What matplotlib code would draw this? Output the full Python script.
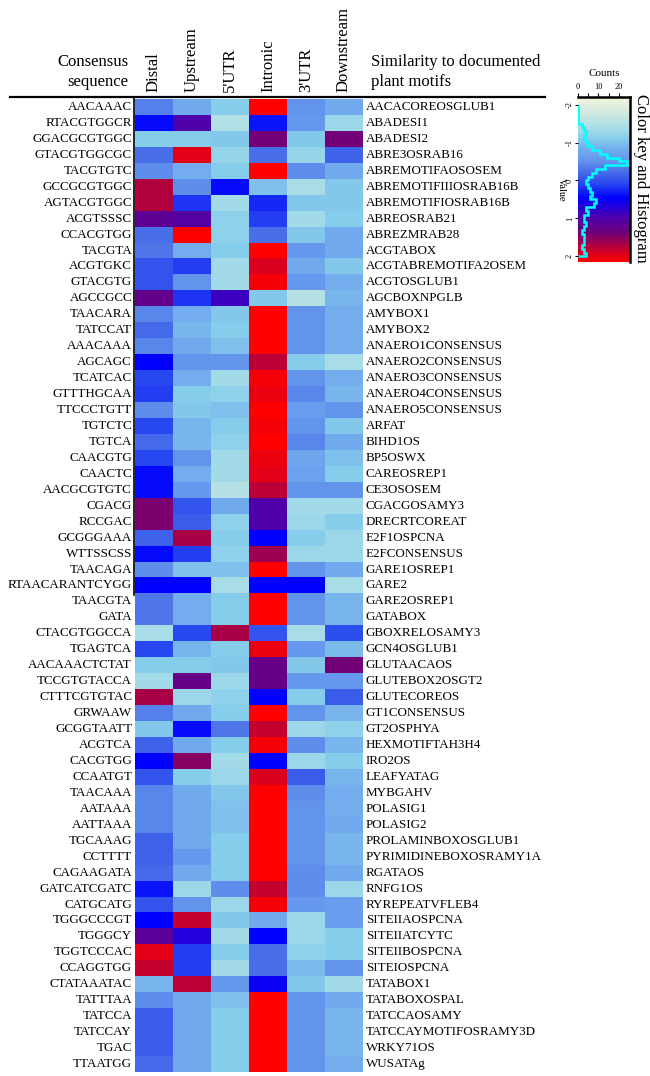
import numpy as np
import matplotlib
matplotlib.use("Agg")
import matplotlib.pyplot as plt
from matplotlib.colors import LinearSegmentedColormap

plt.rcParams['font.family'] = ['Liberation Serif', 'DejaVu Serif']

consensus = ["AACAAAC", "RTACGTGGCR", "GGACGCGTGGC", "GTACGTGGCGC", "TACGTGTC",
             "GCCGCGTGGC", "AGTACGTGGC", "ACGTSSSC", "CCACGTGG", "TACGTA",
             "ACGTGKC", "GTACGTG", "AGCCGCC", "TAACARA", "TATCCAT",
             "AAACAAA", "AGCAGC", "TCATCAC", "GTTTHGCAA", "TTCCCTGTT",
             "TGTCTC", "TGTCA", "CAACGTG", "CAACTC", "AACGCGTGTC",
             "CGACG", "RCCGAC", "GCGGGAAA", "WTTSSCSS", "TAACAGA",
             "RTAACARANTCYGG", "TAACGTA", "GATA", "CTACGTGGCCA", "TGAGTCA",
             "AACAAACTCTAT", "TCCGTGTACCA", "CTTTCGTGTAC", "GRWAAW", "GCGGTAATT",
             "ACGTCA", "CACGTGG", "CCAATGT", "TAACAAA", "AATAAA",
             "AATTAAA", "TGCAAAG", "CCTTTT", "CAGAAGATA", "GATCATCGATC",
             "CATGCATG", "TGGGCCCGT", "TGGGCY", "TGGTCCCAC", "CCAGGTGG",
             "CTATAAATAC", "TATTTAA", "TATCCA", "TATCCAY", "TGAC", "TTAATGG"]

motifs = ["AACACOREOSGLUB1", "ABADESI1", "ABADESI2", "ABRE3OSRAB16", "ABREMOTIFAOSOSEM",
          "ABREMOTIFIIIOSRAB16B", "ABREMOTIFIOSRAB16B", "ABREOSRAB21", "ABREZMRAB28", "ACGTABOX",
          "ACGTABREMOTIFA2OSEM", "ACGTOSGLUB1", "AGCBOXNPGLB", "AMYBOX1", "AMYBOX2",
          "ANAERO1CONSENSUS", "ANAERO2CONSENSUS", "ANAERO3CONSENSUS", "ANAERO4CONSENSUS", "ANAERO5CONSENSUS",
          "ARFAT", "BIHD1OS", "BP5OSWX", "CAREOSREP1", "CE3OSOSEM",
          "CGACGOSAMY3", "DRECRTCOREAT", "E2F1OSPCNA", "E2FCONSENSUS", "GARE1OSREP1",
          "GARE2", "GARE2OSREP1", "GATABOX", "GBOXRELOSAMY3", "GCN4OSGLUB1",
          "GLUTAACAOS", "GLUTEBOX2OSGT2", "GLUTECOREOS", "GT1CONSENSUS", "GT2OSPHYA",
          "HEXMOTIFTAH3H4", "IRO2OS", "LEAFYATAG", "MYBGAHV", "POLASIG1",
          "POLASIG2", "PROLAMINBOXOSGLUB1", "PYRIMIDINEBOXOSRAMY1A", "RGATAOS", "RNFG1OS",
          "RYREPEATVFLEB4", "SITEIIAOSPCNA", "SITEIIATCYTC", "SITEIIBOSPCNA", "SITEIOSPCNA",
          "TATABOX1", "TATABOXOSPAL", "TATCCAOSAMY", "TATCCAYMOTIFOSRAMY3D", "WRKY71OS", "WUSATAg"]

columns = ["Distal", "Upstream", "5'UTR", "Intronic", "3'UTR", "Downstream"]

distal = [-0.3, 0.4, -1.0, -0.2, -0.4, 1.6, 1.6, 1.1, -0.2, -0.25,
          0.0, 0.0, 1.15, -0.35, -0.15, -0.35, 0.45, 0.1, 0.15, -0.4,
          0.1, -0.15, 0.1, 0.4, 0.4, 1.35, 1.35, -0.1, 0.4, -0.4,
          0.45, -0.25, -0.25, -1.25, 0.1, -1.0, -1.2, 1.55, -0.3, -0.95,
          -0.1, 0.45, 0.0, -0.35, -0.35, -0.35, -0.1, -0.1, -0.15, 0.35,
          0.0, 0.45, 1.05, 1.85, 1.7, -0.8, -0.4, -0.05, -0.05, -0.05, -0.15]
upstream = [-0.7, 0.95, -1.0, 1.85, -0.75, -0.4, 0.2, 1.0, 2.0, -0.75,
            0.15, -0.45, 0.2, -0.75, -0.8, -0.7, -0.45, -0.75, -1.0, -0.95,
            -0.8, -0.8, -0.45, -0.75, -0.5, 0.0, -0.05, 1.55, 0.15, -0.9,
            0.45, -0.75, -0.75, 0.1, -0.8, -1.0, 1.2, -1.15, -0.7, 0.4,
            -0.7, 1.4, -1.0, -0.7, -0.7, -0.7, -0.7, -0.5, -0.7, -1.15,
            -0.45, 1.7, 0.65, 0.15, 0.15, 1.65, -0.7, -0.7, -0.7, -0.7, -0.7]
utr5 = [-1.0, -1.3, -0.95, -1.1, -1.0, 0.4, -1.2, -1.05, -1.05, -1.0,
        -1.2, -1.2, 0.8, -0.95, -1.0, -0.9, -0.45, -1.2, -1.05, -0.9,
        -1.0, -1.05, -1.2, -1.2, -1.35, -0.7, -1.05, -1.0, -1.05, -0.9,
        -1.25, -1.0, -1.0, 1.55, -1.0, -0.95, -1.15, -1.05, -1.0, -0.25,
        -1.0, -1.2, -1.15, -0.95, -0.9, -0.9, -1.0, -1.0, -1.0, -0.4,
        -1.15, -0.95, -1.2, -1.0, -1.2, -0.5, -0.9, -1.0, -1.0, -1.0, -1.0]
intronic = [2.0, 0.35, 1.3, -0.2, 2.0, -0.9, 0.25, 0.15, -0.2, 2.0,
            1.8, 1.95, -0.95, 2.0, 2.0, 2.0, 1.65, 1.95, 1.9, 2.0,
            1.95, 2.0, 1.9, 1.85, 1.65, 0.95, 0.95, 0.45, 1.5, 2.0,
            0.45, 2.0, 2.0, 0.0, 1.9, 1.2, 1.2, 0.45, 2.0, 1.7,
            1.95, 0.45, 1.8, 2.0, 2.0, 2.0, 2.0, 2.0, 2.0, 1.7,
            1.95, -0.7, 0.45, -0.2, -0.2, 0.5, 2.0, 2.0, 2.0, 2.0, 2.0]
utr3 = [-0.45, -0.5, -0.95, -1.1, -0.4, -1.25, -0.95, -1.2, -0.95, -0.5,
        -0.7, -0.5, -1.35, -0.45, -0.45, -0.45, -1.0, -0.45, -0.35, -0.55,
        -0.45, -0.35, -0.65, -0.6, -0.45, -1.2, -1.15, -1.0, -1.15, -0.45,
        0.45, -0.45, -0.45, -1.25, -0.5, -0.95, -0.5, -1.0, -0.45, -1.15,
        -0.4, -1.15, -0.05, -0.4, -0.45, -0.45, -0.45, -0.45, -0.4, -0.4,
        -0.5, -1.15, -1.15, -1.05, -0.85, -0.95, -0.45, -0.45, -0.45, -0.45, -0.45]
downstream = [-0.7, -1.15, 1.3, -0.1, -0.7, -0.95, -0.95, -1.0, -0.7, -0.7,
              -0.95, -0.75, -0.8, -0.75, -0.75, -0.75, -1.25, -0.75, -0.8, -0.45,
              -0.95, -0.7, -0.9, -1.0, -0.45, -1.2, -1.0, -1.15, -1.15, -0.7,
              -1.25, -0.8, -0.8, 0.05, -0.85, 1.3, -0.5, -0.05, -0.8, -1.05,
              -0.8, -1.0, -0.8, -0.75, -0.75, -0.7, -0.8, -0.8, -0.7, -1.15,
              -0.55, -0.55, -1.0, -1.0, -0.45, -1.2, -0.7, -0.8, -0.8, -0.8, -0.75]

hist_edges = [-2.0 + 0.1 * i for i in range(41)]
hist_counts = [0, 0, 0, 0, 0, 2, 3, 4, 3, 4,
               5, 7, 11, 14, 20, 24, 13, 9, 7, 5,
               4, 5, 6, 7, 6, 9, 8, 4, 5, 3,
               3, 4, 3, 2, 3, 3, 3, 2, 3, 4]

# colour ramp (value -> colour)
anchors = [(-2.0, '#f5f5dc'), (-1.3, '#b0e0e6'), (-1.0, '#87ceeb'), (-0.75, '#74aeee'),
           (-0.45, '#6495ed'), (-0.2, '#4a70e8'), (0.1, '#2848f0'), (0.45, '#0000ff'),
           (0.9, '#4b00b0'), (1.3, '#700078'), (1.6, '#b00040'), (2.0, '#ff0000')]
cmap = LinearSegmentedColormap.from_list(
    'key', [((v + 2) / 4, c) for v, c in anchors])

W, H = 650, 1076
fig = plt.figure(figsize=(W / 100, H / 100), dpi=100)

def fx(px):
    return px / W

def fy(py):
    return 1 - py / H

data = np.array([distal, upstream, utr5, intronic, utr3, downstream]).T
nrow = len(consensus)

hx0, hx1, hy0, hy1 = 135, 363, 99, 1072
ax = fig.add_axes([fx(hx0), fy(hy1), fx(hx1) - fx(hx0), fy(hy0) - fy(hy1)])
ax.imshow(data, cmap=cmap, vmin=-2, vmax=2, aspect='auto', interpolation='nearest')
ax.set_xticks([])
ax.set_yticks([])
for s in ax.spines.values():
    s.set_visible(False)

rowh = (hy1 - hy0) / nrow
for i, (c, m) in enumerate(zip(consensus, motifs)):
    yc = hy0 + (i + 0.5) * rowh
    fig.text(fx(132), fy(yc), c, ha='right', va='center', fontsize=9.4)
    fig.text(fx(366), fy(yc), m, ha='left', va='center', fontsize=9.4)

colw = (hx1 - hx0) / len(columns)
for j, c in enumerate(columns):
    xc = hx0 + (j + 0.5) * colw
    fig.text(fx(xc), fy(92), c, rotation=90, ha='center', va='bottom', fontsize=12)

fig.text(fx(128), fy(62), "Consensus", ha='right', va='center', fontsize=12)
fig.text(fx(128), fy(82), "sequence", ha='right', va='center', fontsize=12)
fig.text(fx(371), fy(62), "Similarity to documented", ha='left', va='center', fontsize=12)
fig.text(fx(371), fy(82), "plant motifs", ha='left', va='center', fontsize=12)

fig.add_artist(plt.Line2D([fx(10), fx(545)], [fy(97), fy(97)], color='black', lw=1.6))
fig.add_artist(plt.Line2D([fx(134), fx(134)], [fy(97), fy(595)], color='black', lw=1.2))

# colour key and histogram
kx0, kx1, ky0, ky1 = 578, 630, 97, 262
kax = fig.add_axes([fx(kx0), fy(ky1), fx(kx1) - fx(kx0), fy(ky0) - fy(ky1)])
grad = np.linspace(-2, 2, 256).reshape(-1, 1)
kax.imshow(grad, cmap=cmap, vmin=-2, vmax=2, aspect='auto',
           extent=[0, 25.5, 2.15, -2.2], interpolation='bilinear')
kax.stairs(hist_counts, hist_edges, orientation='horizontal', color='#00ffff', lw=1.8, baseline=0)
kax.set_xlim(0, 25.5)
kax.set_ylim(2.15, -2.2)
kax.xaxis.tick_top()
kax.set_xticks([0, 10, 20])
kax.set_xticks([5, 15], minor=True)
kax.tick_params(axis='x', labelsize=6, length=3, width=0.8, pad=1)
kax.tick_params(axis='x', which='minor', length=3, width=0.8, top=True, bottom=False)
kax.set_yticks([-2, -1, 0, 1, 2])
kax.set_yticklabels(['-2', '-1', '0', '1', '2'], rotation=90, va='center', fontsize=6)
kax.tick_params(axis='y', length=2, width=0.8, pad=1)
kax.spines['top'].set_linewidth(1.8)
kax.spines['right'].set_linewidth(1.8)
kax.spines['left'].set_visible(False)
kax.spines['bottom'].set_visible(False)
fig.text(fx(604), fy(74), "Counts", ha='center', va='center', fontsize=8)
fig.text(fx(561), fy(190), "Value", ha='center', va='center', rotation=-90, fontsize=7.5)
fig.text(fx(641), fy(178), "Color key and Histogram", ha='center', va='center', rotation=-90, fontsize=12)

fig.savefig('out.png', dpi=100)
